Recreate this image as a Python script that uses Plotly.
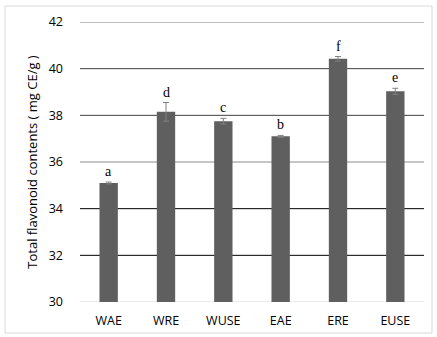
import plotly.graph_objects as go

# Extraction methods and their total flavonoid contents (mg CE/g)
categories = ["WAE", "WRE", "WUSE", "EAE", "ERE", "EUSE"]
values = [35.1, 38.15, 37.75, 37.1, 40.42, 39.03]
errors = [0.04, 0.4, 0.12, 0.04, 0.1, 0.13]
letters = ["a", "d", "c", "b", "f", "e"]

y_ticks = [30, 32, 34, 36, 38, 40, 42]
grid_colors = ["#d9d9d9", "#000000", "#000000", "#8c8c8c", "#404040", "#404040", "#7f7f7f"]

fig = go.Figure()
fig.add_trace(go.Bar(
    x=categories, y=values,
    width=0.32,
    marker=dict(color="#5f5f5f", line=dict(width=0)),
    error_y=dict(type="data", array=errors, visible=True,
                 color="#808080", thickness=1, width=3),
    showlegend=False,
))

# Significance letters above each error bar
for c, v, e, t in zip(categories, values, errors, letters):
    fig.add_annotation(x=c, y=v + e, text=t, showarrow=False,
                       yanchor="bottom", yshift=1,
                       font=dict(family="Liberation Serif", size=14, color="#000"))

# Horizontal grid lines
for yv, col in zip(y_ticks, grid_colors):
    fig.add_shape(type="line", xref="paper", yref="y", x0=0, x1=1, y0=yv, y1=yv,
                  line=dict(color=col, width=1), layer="below")

# Outer chart border
fig.add_shape(type="rect", xref="paper", yref="paper",
              x0=-75/344, x1=1 + 8/344, y0=-31/280, y1=1 + 16/280,
              line=dict(color="#d9d9d9", width=1))

fig.update_layout(
    width=437, height=337,
    margin=dict(l=80, r=13, t=22, b=35, autoexpand=False),
    paper_bgcolor="white", plot_bgcolor="white",
    font=dict(family="Open Sans", size=12, color="#000"),
    xaxis=dict(showgrid=False, showline=False, ticks="", ticklabelstandoff=9,
               automargin=False,
               tickfont=dict(family="Open Sans", size=12.5, color="#000")),
    yaxis=dict(range=[30, 42], tickvals=y_ticks, showgrid=False, zeroline=False,
               showline=False, ticks="", ticklabelstandoff=16, automargin=False,
               tickfont=dict(family="Open Sans", size=12.5, color="#000"),
               title=dict(text="Total flavonoid contents ( mg CE/g )",
                          font=dict(family="Open Sans", size=13, color="#000"),
                          standoff=8)),
    bargap=0.68,
)

fig.write_html("out.html")
